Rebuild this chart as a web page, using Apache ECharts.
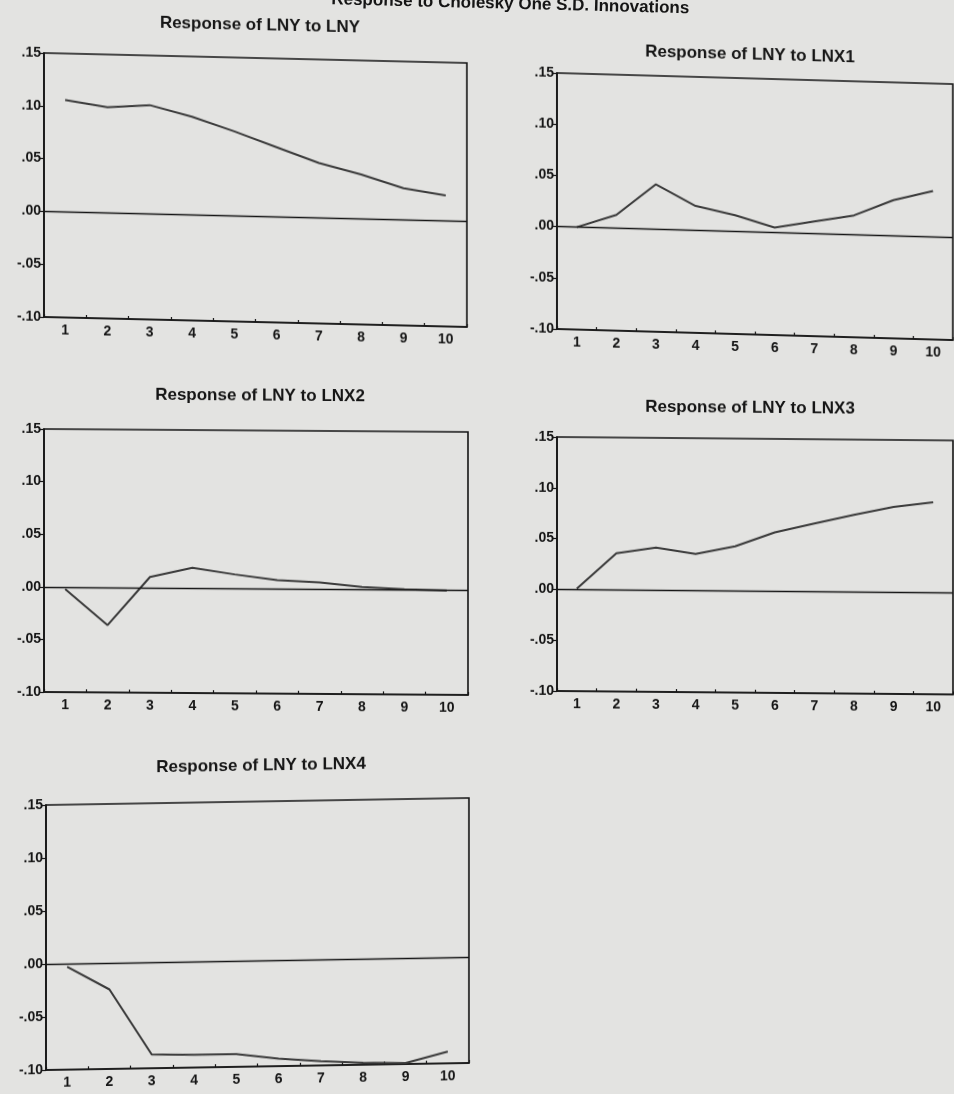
<!DOCTYPE html>
<html>
<head>
<meta charset="utf-8">
<script src="https://cdn.jsdelivr.net/npm/echarts@6/dist/echarts.min.js"></script>
<style>
html,body{margin:0;padding:0;background:#e3e3e1;width:954px;height:1094px;overflow:hidden;}
#bg{position:absolute;left:0;top:0;width:954px;height:1094px;}
.c{position:absolute;}
</style>
</head>
<body>
<div id="bg"></div>
<div id="c1" class="c"></div>
<div id="c2" class="c"></div>
<div id="c3" class="c"></div>
<div id="c4" class="c"></div>
<div id="c5" class="c"></div>
<script>
// ---- data ----
const headerText = 'Response to Cholesky One S.D. Innovations';
const periods = ['1','2','3','4','5','6','7','8','9','10'];
const yTickValues = [-0.10, -0.05, 0.00, 0.05, 0.10, 0.15];
const yTickLabels = ['-.10', '-.05', '.00', '.05', '.10', '.15'];
const titles = ['Response of LNY to LNY','Response of LNY to LNX1','Response of LNY to LNX2','Response of LNY to LNX3','Response of LNY to LNX4'];
const respLNY  = [0.106, 0.100, 0.103, 0.093, 0.080, 0.066, 0.052, 0.042, 0.030, 0.024];
const respLNX1 = [0.000, 0.013, 0.044, 0.024, 0.016, 0.005, 0.012, 0.019, 0.035, 0.045];
const respLNX2 = [-0.002, -0.036, 0.010, 0.019, 0.013, 0.008, 0.006, 0.002, 0.000, -0.001];
const respLNX3 = [0.001, 0.036, 0.042, 0.036, 0.044, 0.058, 0.067, 0.076, 0.084, 0.089];
const respLNX4 = [-0.003, -0.025, -0.087, -0.088, -0.088, -0.093, -0.096, -0.098, -0.099, -0.089];
const seriesList = [respLNY, respLNX1, respLNX2, respLNX3, respLNX4];

// ---- layout (div box, grid inside div, title, skew) ----
const layouts = [
  {id:'c1', left:0,   top:0,   w:480, h:350, g:{left:44, top:53, width:423, height:264}, tx:260, ty:12, skew:1.35},
  {id:'c2', left:477, top:0,   w:477, h:370, g:{left:80, top:73, width:396, height:256}, tx:273, ty:41, skew:1.6},
  {id:'c3', left:0,   top:370, w:480, h:345, g:{left:44, top:59, width:424, height:263}, tx:260, ty:16, skew:0.4},
  {id:'c4', left:477, top:380, w:477, h:340, g:{left:80, top:57, width:396, height:254}, tx:273, ty:18, skew:0.5},
  {id:'c5', left:0,   top:745, w:480, h:349, g:{left:46, top:60, width:423, height:265}, tx:261, ty:16, skew:-0.95}
];

const FONT = '"Liberation Sans", Arial, sans-serif';
const INK = '#151515';

// background + header
const bg = echarts.init(document.getElementById('bg'));
bg.setOption({
  backgroundColor: '#e3e3e1',
  graphic: [{
    type: 'text', x: 689, y: 17, rotation: -0.025,
    style: {
      text: headerText, fill: INK, fontSize: 17, fontWeight: 'bold', fontFamily: FONT,
      align: 'right', verticalAlign: 'bottom', textAlign: 'right', textVerticalAlign: 'bottom'
    }
  }]
});

function tickLabel(v) {
  let best = 0, bd = Infinity;
  yTickValues.forEach((t, i) => { const d = Math.abs(t - v); if (d < bd) { bd = d; best = i; } });
  return yTickLabels[best];
}

layouts.forEach((L, i) => {
  const el = document.getElementById(L.id);
  el.style.left = L.left + 'px';
  el.style.top = L.top + 'px';
  el.style.width = L.w + 'px';
  el.style.height = L.h + 'px';
  el.style.transformOrigin = L.g.left + 'px 0px';
  el.style.transform = 'skewY(' + L.skew + 'deg)';
  const ch = echarts.init(el);
  ch.setOption({
    backgroundColor: 'transparent',
    animation: false,
    title: {
      text: titles[i], left: L.tx, top: L.ty, textAlign: 'center', padding: 0,
      textStyle: { color: INK, fontSize: 17, fontWeight: 'bold', fontFamily: FONT }
    },
    grid: Object.assign({ show: true, borderColor: INK, borderWidth: 1.6, backgroundColor: 'transparent', containLabel: false }, L.g),
    xAxis: {
      type: 'category', data: periods, boundaryGap: true,
      axisLine: { show: true, onZero: false, lineStyle: { color: INK, width: 1.6 } },
      axisTick: { show: true, inside: true, length: 3, lineStyle: { color: INK, width: 1.2 } },
      axisLabel: { color: INK, fontSize: 14, fontWeight: 'bold', fontFamily: FONT, margin: 6, interval: 0 },
      splitLine: { show: false }
    },
    yAxis: {
      type: 'value', min: -0.10, max: 0.15, interval: 0.05,
      axisLine: { show: true, lineStyle: { color: INK, width: 1.6 } },
      axisTick: { show: true, inside: false, length: 5, lineStyle: { color: INK, width: 1.2 } },
      axisLabel: { color: INK, fontSize: 14, fontWeight: 'bold', fontFamily: FONT, margin: 3, formatter: tickLabel },
      splitLine: { show: false }
    },
    series: [{
      type: 'line', data: seriesList[i], symbol: 'none', smooth: false,
      lineStyle: { color: '#3a3a3a', width: 2 },
      markLine: {
        silent: true, symbol: 'none', label: { show: false },
        lineStyle: { color: INK, width: 1.3, type: 'solid' },
        data: [{ yAxis: 0 }]
      }
    }]
  });
});
</script>
</body>
</html>
